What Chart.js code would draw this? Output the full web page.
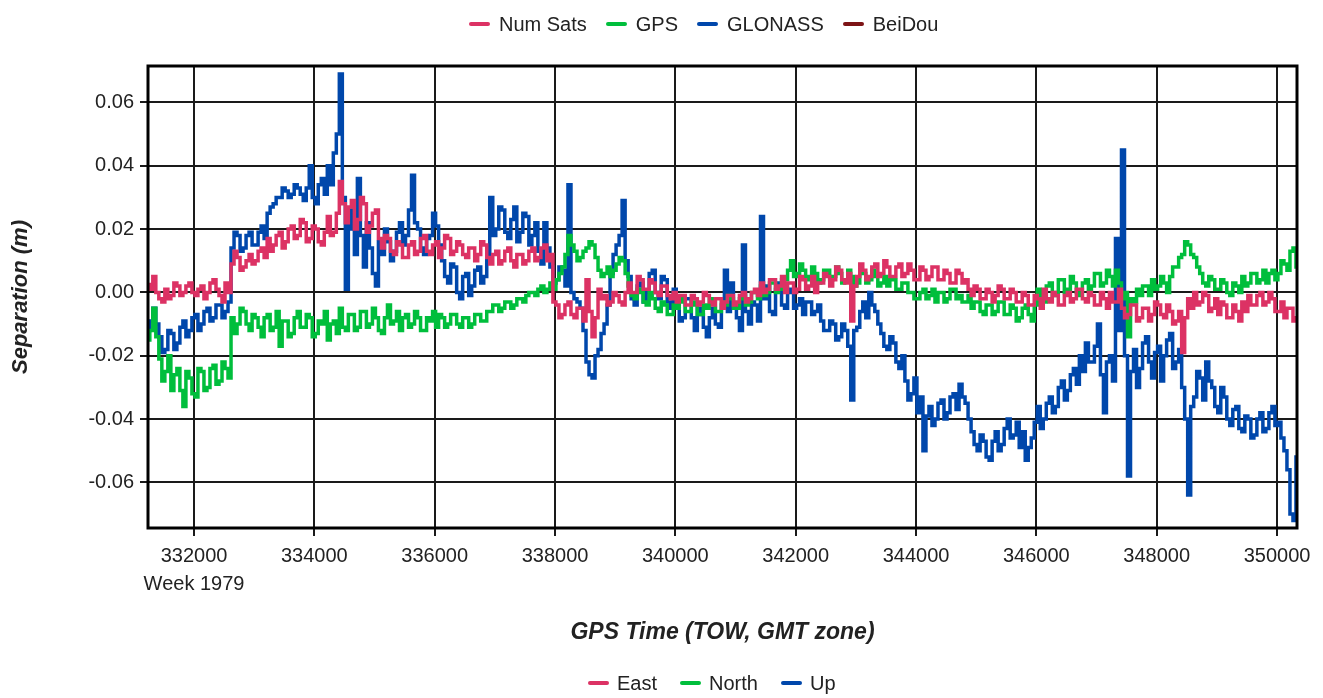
<!DOCTYPE html>
<html>
<head>
<meta charset="utf-8">
<title>Separation vs GPS Time</title>
<script src="https://cdn.jsdelivr.net/npm/chart.js@4.4.1/dist/chart.umd.min.js"></script>
<style>
  body { margin: 0; background: #fff; font-family: "Liberation Sans", Arial, sans-serif; }
  #wrap { position: relative; width: 1323px; height: 698px; }
  .legend { position: absolute; display: flex; align-items: center; font-size: 20px; line-height: 24px; color: #222; white-space: nowrap; }
  .legend .item { display: flex; align-items: center; }
  .legend .sw { width: 21px; height: 4px; border-radius: 2px; margin-right: 9px; }
  #legendTop { left: 469px; top: 12px; }
  #legendTop .item { margin-right: 19px; }
  #legendBottom { left: 588px; top: 671px; }
  #legendBottom .item { margin-right: 23px; }
  #legendBottom .sw { margin-right: 8px; }
</style>
</head>
<body>
<div id="wrap">
  <div id="legendTop" class="legend"></div>
  <canvas id="sepChart"></canvas>
  <div id="legendBottom" class="legend"></div>
</div>
<script>
  // ---------- Data ----------
  // one solution every 50 s, GPS week 1979
  const T0 = 331240;
  const DT = 50;
  const N_EPOCHS = 383;

  // separations, millimetres
  const EAST_MM = [
    2.5, 1, 5, 0, -2, -3, 1, -2, -1, 3, 2, -1, 0, 2, 3, 0, -1, 1, 2, -2,
    0, 3, 4, 1, -1, -3, 3, 0, 9, 13, 11, 7, 8, 10, 12, 9, 10, 13, 14, 11,
    17, 13, 15, 18, 19, 14, 16, 20, 21, 17, 18, 23, 22, 16, 17, 21, 20, 16, 15, 19,
    24, 18, 19, 25, 35, 28, 22, 27, 29, 20, 23, 30, 28, 19, 21, 25, 26, 17, 14, 18,
    17, 13, 12, 16, 15, 11, 11, 15, 16, 12, 13, 17, 18, 13, 12, 15, 16, 11, 14, 18,
    17, 12, 13, 16, 15, 12, 11, 14, 14, 10, 12, 16, 15, 11, 9, 12, 13, 9, 10, 13,
    14, 10, 8, 12, 12, 9, 10, 13, 14, 10, 11, 14, 15, 10, 12, -3, -4, -8, -7, -4,
    -3, -7, -8, -5, -5, -9, 4, -6, -14, -8, 1, -2, -1, -4, -3, 0, -1, -3, -4, 0,
    3, 0, 0, 5, 4, 1, 1, 4, 3, 0, -1, 2, 2, -1, -2, 0, -3, -1, -1, -4,
    -4, -1, -2, -4, -3, 0, -1, -3, -4, -2, -2, -5, -3, -1, -1, -4, -3, -1, 0, -3,
    -2, 0, 1, -1, 3, 0, 1, 4, 4, 1, 2, 5, 0, 3, 3, 0, 1, 5, 4, 1,
    2, 5, 0, 3, 3, 6, 5, 2, 4, 8, 7, 4, 3, 6, -9, 2, 5, 9, 7, 4,
    5, 8, 9, 5, 6, 10, 8, 5, 5, 8, 9, 5, 6, 9, 7, 4, 4, 8, 7, 4,
    5, 8, 8, 4, 4, 7, 6, 3, 3, 7, 6, 3, 4, 1, -1, 2, 1, -2, -2, 1,
    0, -3, -1, 2, 1, -2, -2, 1, 0, -3, -3, 0, -1, -4, -4, -1, -2, -5, 1, -2,
    -3, 0, -1, -4, -4, -1, 0, -3, -2, 1, 1, -2, -3, 0, -1, -4, -4, 0, -2, -5,
    0, -3, -3, 1, -5, -8, -7, -4, -4, -9, -8, -5, -5, -9, -7, -3, -4, -7, -8, -4,
    -6, -10, -9, -6, -19, -8, -2, -5, 0, -4, -3, 0, -1, -6, -5, -2, -7, -3, -4, -8,
    -8, -4, -6, -9, -3, -6, -1, -4, -4, -1, 0, -4, -3, 0, -2, -6, -6, -3, -8, -5,
    -5, -9, -8
  ];

  const NORTH_MM = [
    -15, -12, -5, -14, -21, -28, -25, -20, -31, -26, -24, -31, -36, -25, -27, -32, -33, -24, -25, -31,
    -30, -24, -23, -29, -28, -22, -24, -27, -8, -13, -10, -5, -6, -10, -12, -7, -8, -11, -14, -8,
    -7, -12, -11, -6, -17, -9, -9, -14, -13, -8, -6, -11, -11, -7, -8, -14, -13, -9, -10, -6,
    -15, -10, -9, -13, -5, -11, -12, -7, -7, -12, -11, -6, -6, -11, -10, -5, -8, -12, -13, -8,
    -4, -10, -9, -6, -12, -8, -7, -11, -10, -6, -8, -12, -12, -8, -9, -6, -11, -7, -8, -11,
    -10, -7, -7, -10, -11, -8, -8, -11, -10, -7, -7, -9, -9, -6, -6, -4, -4, -6, -5, -3,
    -3, -5, -4, -2, -2, -3, -1, 0, 0, -1, 1, 2, 0, 1, 3, 1, 4, 6, 8, 12,
    18, 15, 13, 10, 11, 13, 14, 16, 15, 11, 7, 5, 6, 8, 5, 7, 9, 11, 10, 6,
    2, -1, -2, 1, 0, -3, -4, 0, -2, -5, -6, -3, -4, -7, -7, -4, -5, -2, -3, -6,
    -6, -3, -4, -7, -7, -4, -5, -2, -3, -6, -6, -3, -4, -1, -2, -5, -5, -2, -1, -4,
    -3, 0, 0, -2, 2, -1, 0, 3, 3, 0, 1, 4, 4, 7, 10, 5, 6, 9, 7, 4,
    5, 8, 6, 3, 4, 7, 7, 4, 5, 8, 6, 3, 4, 7, 5, 2, 3, 6, 6, 3,
    4, 7, 5, 2, 3, 5, 2, 4, 4, 1, 1, 3, 3, 0, 0, -2, -2, 0, 1, -2,
    -1, 1, -3, 0, 0, -3, -2, 1, 1, -2, -1, -3, -3, -1, -5, -3, -3, -6, -7, -4,
    -4, -7, -6, -3, -3, -7, -7, -4, -5, -9, -8, -5, -4, -7, -9, -4, 1, -2, -3, 2,
    3, -1, 0, 4, 4, 0, 1, 5, 3, 0, -1, 3, 4, 1, 2, 6, 6, 2, 3, 7,
    5, 2, 7, 3, -2, 0, -14, -2, -3, 1, -1, 2, 2, -1, 4, 1, 2, 5, 3, 0,
    5, 8, 8, 11, 12, 16, 15, 12, 11, 8, 6, 3, 2, 5, 4, 1, 1, 4, 3, 0,
    -1, 3, 2, 0, 5, 2, 3, 6, 6, 3, 4, 7, 3, 6, 7, 4, 6, 10, 9, 7,
    13, 14, 8
  ];

  const UP_MM = [
    -12, -9, -5, -10, -14, -19, -18, -12, -13, -18, -16, -11, -9, -14, -12, -8, -7, -12, -10, -6,
    -5, -9, -8, -4, -4, -8, -6, -3, 14, 19, 18, 13, 14, 18, 19, 15, 15, 19, 21, 17,
    25, 27, 28, 30, 30, 33, 32, 30, 31, 34, 33, 31, 29, 33, 40, 30, 28, 34, 36, 31,
    40, 34, 44, 50, 69, 30, 1, 26, 20, 12, 36, 18, 8, 22, 14, 6, 2, 16, 12, 20,
    16, 10, 13, 19, 22, 15, 18, 26, 37, 22, 20, 14, 12, 17, 18, 25, 21, 15, 10, 5,
    3, 9, 8, 0, -2, 5, 6, -1, 2, 7, 8, 3, 5, 10, 30, 18, 20, 27, 26, 19,
    17, 23, 27, 16, 19, 25, 24, 15, 18, 22, 13, 9, 22, 14, 8, 3, 4, 8, 7, 2,
    34, 0, -2, -3, -5, -12, -22, -26, -27, -20, -18, -13, -10, -4, 6, 12, 15, 18, 29, 10,
    5, -2, -4, 2, 3, -3, 0, 6, 7, 0, -2, 5, 4, -3, -5, 1, -3, -9, -8, -2,
    -2, -8, -12, -5, -7, -11, -14, -8, -5, -10, -11, -4, 7, -6, 3, -4, -8, -12, 15, -6,
    -10, -3, -4, -9, 24, -2, 2, -6, -7, 1, 3, -4, -5, 0, 1, -5, -4, -2, -7, -3,
    -3, -7, -6, -4, -9, -12, -12, -9, -10, -15, -14, -10, -12, -17, -34, -12, -11, -6, -3, -8,
    0, -4, -6, -10, -13, -17, -18, -14, -16, -22, -24, -20, -28, -34, -32, -27, -38, -33, -50, -39,
    -36, -42, -40, -35, -34, -40, -38, -33, -32, -37, -29, -33, -35, -40, -44, -48, -50, -45, -47, -52,
    -53, -47, -44, -50, -48, -43, -40, -46, -45, -41, -49, -44, -53, -49, -46, -41, -36, -43, -40, -35,
    -33, -38, -36, -30, -28, -34, -31, -26, -24, -29, -20, -25, -16, -22, -22, -17, -10, -26, -38, -22,
    -20, -28, 17, -12, 45, -20, -58, -25, -18, -30, -24, -16, -14, -22, -27, -19, -17, -28, -20, -15,
    -13, -24, -22, -18, -30, -40, -64, -36, -33, -25, -27, -34, -22, -28, -30, -36, -38, -30, -33, -40,
    -42, -37, -36, -43, -44, -39, -40, -46, -45, -40, -38, -44, -43, -38, -36, -42, -41, -46, -50, -56,
    -70, -72, -52
  ];

  // axes
  const X_MIN = 331235, X_MAX = 350332;
  const Y_MIN = -74.4, Y_MAX = 71.5;
  const X_TICKS = [332000, 334000, 336000, 338000, 340000, 342000, 344000, 346000, 348000, 350000];
  const Y_TICKS = [-60, -40, -20, 0, 20, 40, 60];

  const TOP_LEGEND = [
    { label: "Num Sats", color: "#dc3264" },
    { label: "GPS",      color: "#00be3c" },
    { label: "GLONASS",  color: "#0047ab" },
    { label: "BeiDou",   color: "#7d1416" }
  ];
  const SERIES = [
    { label: "East",  color: "#dc3264", data: EAST_MM },
    { label: "North", color: "#00be3c", data: NORTH_MM },
    { label: "Up",    color: "#0047ab", data: UP_MM }
  ];

  const epochs = Array.from({ length: N_EPOCHS }, (_, i) => T0 + i * DT);

  // ---------- Legends ----------
  function fillLegend(id, items) {
    const el = document.getElementById(id);
    for (const it of items) {
      const item = document.createElement("div");
      item.className = "item";
      const sw = document.createElement("span");
      sw.className = "sw";
      sw.style.background = it.color;
      const txt = document.createElement("span");
      txt.textContent = it.label;
      item.appendChild(sw);
      item.appendChild(txt);
      el.appendChild(item);
    }
  }
  fillLegend("legendTop", TOP_LEGEND);
  fillLegend("legendBottom", SERIES);

  // ---------- Chart ----------
  const plotFrame = {
    id: "plotFrame",
    afterDraw(chart) {
      const { ctx, chartArea: a } = chart;
      ctx.save();
      ctx.strokeStyle = "#000";
      ctx.lineWidth = 3;
      ctx.strokeRect(a.left, a.top, a.right - a.left, a.bottom - a.top);
      ctx.restore();
    }
  };

  const FONT = "'Liberation Sans', Arial, sans-serif";
  const gridStyle = { color: "#1a1a1a", lineWidth: 2, tickLength: 8, drawTicks: true };

  new Chart(document.getElementById("sepChart"), {
    type: "line",
    data: {
      labels: epochs,
      datasets: SERIES.map(s => ({
        label: s.label,
        data: s.data,
        borderColor: s.color,
        backgroundColor: s.color,
        borderWidth: 3.5,
        pointRadius: 0,
        fill: false,
        stepped: "middle"
      }))
    },
    options: {
      responsive: true,
      maintainAspectRatio: false,
      animation: false,
      devicePixelRatio: 1,
      layout: { padding: { top: 66, right: 26, bottom: 52, left: 0 } },
      plugins: { legend: { display: false }, tooltip: { enabled: false } },
      scales: {
        x: {
          type: "linear",
          min: X_MIN,
          max: X_MAX,
          grid: gridStyle,
          border: { display: false },
          afterBuildTicks: scale => { scale.ticks = X_TICKS.map(v => ({ value: v })); },
          ticks: {
            autoSkip: false,
            maxRotation: 0,
            padding: 6,
            color: "#222",
            font: { family: FONT, size: 20, lineHeight: 1.4 },
            callback: v => v === 332000 ? ["332000", "Week 1979"] : String(v)
          },
          title: {
            display: true,
            text: "GPS Time (TOW, GMT zone)",
            color: "#222",
            padding: { top: 0, bottom: 0 },
            font: { family: FONT, size: 23, weight: "bold", style: "italic" }
          },
          afterFit: scale => { scale.height = 118; }
        },
        y: {
          type: "linear",
          min: Y_MIN,
          max: Y_MAX,
          grid: gridStyle,
          border: { display: false },
          afterBuildTicks: scale => { scale.ticks = Y_TICKS.map(v => ({ value: v })); },
          ticks: {
            padding: 6,
            color: "#222",
            font: { family: FONT, size: 20 },
            callback: v => (v / 1000).toFixed(2)
          },
          title: {
            display: true,
            text: "Separation (m)",
            color: "#222",
            padding: { top: 8, bottom: 0 },
            font: { family: FONT, size: 22, weight: "bold", style: "italic" }
          },
          afterFit: scale => { scale.width = 148; }
        }
      }
    },
    plugins: [plotFrame]
  });
</script>
</body>
</html>
